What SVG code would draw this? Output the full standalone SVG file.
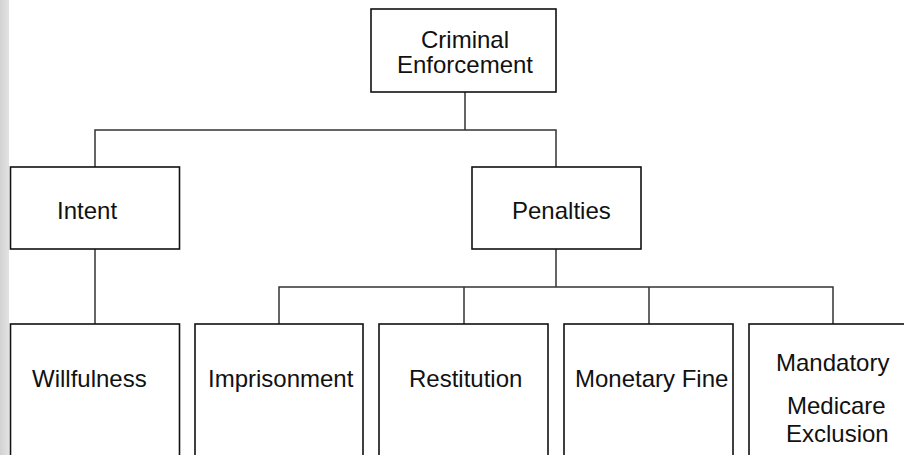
<svg xmlns="http://www.w3.org/2000/svg" width="904" height="455" viewBox="0 0 904 455">
  <defs>
    <linearGradient id="edge" x1="0" y1="0" x2="1" y2="0">
      <stop offset="0" stop-color="#d2d2d2"/>
      <stop offset="1" stop-color="#e2e2e2"/>
    </linearGradient>
    <style>
      .box { fill: #ffffff; stroke: #111111; stroke-width: 1.6; }
      .wire { fill: none; stroke: #333333; stroke-width: 1.5; }
      .label { font-family: "Liberation Sans", Arial, sans-serif; font-size: 24px; fill: #111111; }
    </style>
  </defs>

  <rect x="0" y="0" width="904" height="455" fill="#ffffff"/>
  <rect x="0" y="0" width="9" height="455" fill="url(#edge)"/>

  <!-- connectors -->
  <g id="connectors">
    <path class="wire" d="M465 92 V130 M95 167 V130 H556 V167"/>
    <path class="wire" d="M95 249 V324"/>
    <path class="wire" d="M556 249 V287 M279 324 V287 H833 V324 M464 287 V324 M649 287 V324"/>
  </g>

  <g id="criminal-enforcement">
    <rect class="box" x="371" y="9" width="185" height="83"/>
    <text class="label" x="465" y="47.5" text-anchor="middle">Criminal</text>
    <text class="label" x="465" y="73" text-anchor="middle">Enforcement</text>
  </g>

  <g id="intent">
    <rect class="box" x="10.5" y="167" width="169" height="82"/>
    <text class="label" x="57" y="219">Intent</text>
  </g>

  <g id="penalties">
    <rect class="box" x="472" y="167" width="169" height="82"/>
    <text class="label" x="512" y="219">Penalties</text>
  </g>

  <g id="willfulness">
    <rect class="box" x="10.5" y="324" width="169" height="150"/>
    <text class="label" x="32" y="387">Willfulness</text>
  </g>

  <g id="imprisonment">
    <rect class="box" x="195" y="324" width="168" height="150"/>
    <text class="label" x="208" y="387">Imprisonment</text>
  </g>

  <g id="restitution">
    <rect class="box" x="379" y="324" width="169" height="150"/>
    <text class="label" x="409" y="387">Restitution</text>
  </g>

  <g id="monetary-fine">
    <rect class="box" x="564" y="324" width="169" height="150"/>
    <text class="label" x="575" y="387">Monetary Fine</text>
  </g>

  <g id="medicare-exclusion">
    <rect class="box" x="749" y="324" width="169" height="150"/>
    <text class="label" x="776" y="371">Mandatory</text>
    <text class="label" x="787" y="414">Medicare</text>
    <text class="label" x="786" y="442">Exclusion</text>
  </g>
</svg>
